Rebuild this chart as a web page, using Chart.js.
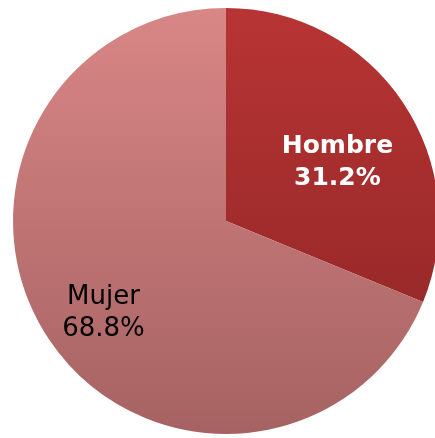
<!DOCTYPE html>
<html>
<head>
<meta charset="utf-8">
<script src="https://cdn.jsdelivr.net/npm/chart.js@4"></script>
<style>
  html, body { margin: 0; padding: 0; background: #fff; overflow: hidden; width: 435px; height: 438px; }
  #wrap { position: absolute; left: 13px; top: 8px; width: 426px; height: 426px; }
</style>
</head>
<body>
<div id="wrap"><canvas id="pieChart"></canvas></div>
<script>
const labels = ['Hombre', 'Mujer'];
const values = [31.2, 68.8];
const topColors = ['#b83434', '#d98686'];
const bottomColors = ['#8c2424', '#a66262'];

// label look per slice: radial distance (fraction of radius), angle shift, style
const labelStyle = [
    { dist: 0.59, shift: 0.11, color: '#ffffff', font: 'bold 25px' },
    { dist: 0.72, shift: -0.055, color: '#000000', font: '26px' }
];

function sliceGradient(context) {
    const chart = context.chart;
    const area = chart.chartArea;
    if (!area) return topColors[context.dataIndex];
    const g = chart.ctx.createLinearGradient(0, area.top, 0, area.bottom);
    g.addColorStop(0, topColors[context.dataIndex]);
    g.addColorStop(1, bottomColors[context.dataIndex]);
    return g;
}

const sliceLabels = {
    id: 'sliceLabels',
    afterDatasetsDraw(chart) {
        const ctx = chart.ctx;
        const meta = chart.getDatasetMeta(0);
        meta.data.forEach(function (arc, i) {
            const s = labelStyle[i];
            const mid = (arc.startAngle + arc.endAngle) / 2 + s.shift;
            const r = arc.outerRadius * s.dist;
            const x = arc.x + Math.cos(mid) * r;
            const y = arc.y + Math.sin(mid) * r;
            ctx.save();
            ctx.fillStyle = s.color;
            ctx.font = s.font + ' "DejaVu Sans", Verdana, sans-serif';
            ctx.textAlign = 'center';
            ctx.textBaseline = 'middle';
            ctx.fillText(labels[i], x, y - 16);
            ctx.fillText(values[i].toFixed(1) + '%', x, y + 16);
            ctx.restore();
        });
    }
};

new Chart(document.getElementById('pieChart').getContext('2d'), {
    type: 'pie',
    data: {
        labels: labels,
        datasets: [{
            data: values,
            backgroundColor: sliceGradient,
            borderWidth: 0
        }]
    },
    options: {
        responsive: true,
        maintainAspectRatio: false,
        animation: false,
        layout: { padding: 0 },
        plugins: {
            legend: { display: false },
            tooltip: { enabled: false }
        }
    },
    plugins: [sliceLabels]
});
</script>
</body>
</html>
